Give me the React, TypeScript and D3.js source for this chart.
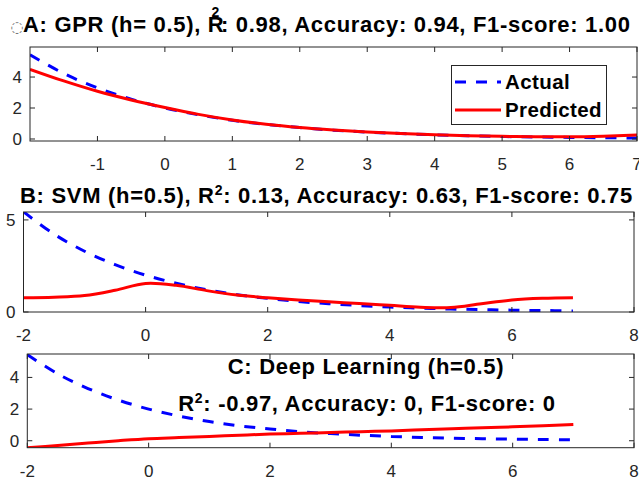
import * as d3 from "d3";

const xs = [-2, -1.5, -1, -0.5, 0, 0.5, 1, 1.5, 2, 2.5, 3, 3.5, 4, 4.5, 5, 5.5, 6, 6.5, 7];
const actual = [5.44, 4.23, 3.3, 2.57, 2.0, 1.56, 1.21, 0.94, 0.74, 0.57, 0.45, 0.35, 0.27, 0.21, 0.16, 0.13, 0.1, 0.08, 0.06];
const predGPR = [4.5, 3.75, 3.08, 2.52, 2.03, 1.59, 1.23, 0.95, 0.74, 0.58, 0.45, 0.35, 0.27, 0.21, 0.17, 0.15, 0.14, 0.18, 0.25];
const predSVM = [0.77, 0.8, 0.89, 1.18, 1.55, 1.45, 1.16, 0.92, 0.77, 0.65, 0.55, 0.46, 0.36, 0.26, 0.24, 0.45, 0.65, 0.74, 0.77];
const predDL = [-0.44, -0.3, -0.15, 0.0, 0.13, 0.2, 0.27, 0.35, 0.42, 0.47, 0.52, 0.57, 0.62, 0.69, 0.76, 0.82, 0.88, 0.95, 1.02];

const ticksA = [-1, 0, 1, 2, 3, 4, 5, 6, 7];
const ticksBC = [-2, 0, 2, 4, 6, 8];
const yTicksA = [0, 2, 4];
const yTicksB = [0, 5];
const yTicksC = [0, 2, 4];

const FONT = "'Liberation Sans', Arial, Helvetica, sans-serif";
const AXIS = "#262626";
const TITLE_SIZE = 22;
const TITLE_LS = 0.7;

type PanelProps = {
  left: number; right: number; top: number; bottom: number;
  xDomain: [number, number]; yDomain: [number, number];
  xTicks: number[]; yTicks: number[]; pred: number[];
};

function Panel({ left, right, top, bottom, xDomain, yDomain, xTicks, yTicks, pred }: PanelProps) {
  const x = d3.scaleLinear().domain(xDomain).range([left, right]);
  const y = d3.scaleLinear().domain(yDomain).range([bottom, top]);
  const line = d3
    .line<number>()
    .x((_, i) => x(xs[i]))
    .y((d) => y(d))
    .curve(d3.curveCatmullRom);
  const tk = 5;
  return (
    <g>
      <defs>
        <clipPath id={`clip${top}`}>
          <rect x={left} y={top} width={right - left} height={bottom - top} />
        </clipPath>
      </defs>
      <g clipPath={`url(#clip${top})`}>
        <path d={line(actual) || ""} fill="none" stroke="#0000FF" strokeWidth={3} strokeDasharray="11,10" />
        <path d={line(pred) || ""} fill="none" stroke="#FF0000" strokeWidth={3} />
      </g>
      <rect x={left} y={top} width={right - left} height={bottom - top} fill="none" stroke={AXIS} strokeWidth={1} />
      {xTicks.map((t) => (
        <g key={"x" + t}>
          <line x1={x(t)} x2={x(t)} y1={bottom} y2={bottom - tk} stroke={AXIS} />
          <line x1={x(t)} x2={x(t)} y1={top} y2={top + tk} stroke={AXIS} />
          <text x={x(t)} y={bottom + 29} textAnchor="middle" fontSize={17} fill={AXIS} fontFamily={FONT}>
            {t}
          </text>
        </g>
      ))}
      {yTicks.map((t) => (
        <g key={"y" + t}>
          <line x1={left} x2={left + tk} y1={y(t)} y2={y(t)} stroke={AXIS} />
          <line x1={right} x2={right - tk} y1={y(t)} y2={y(t)} stroke={AXIS} />
          <text x={left - 8} y={y(t) + 6} textAnchor="end" fontSize={17} fill={AXIS} fontFamily={FONT}>
            {t}
          </text>
        </g>
      ))}
    </g>
  );
}

export default function App() {
  const titleProps = {
    fontSize: TITLE_SIZE,
    fontWeight: "bold",
    fontFamily: FONT,
    fill: "#000",
    letterSpacing: TITLE_LS,
  };
  return (
    <svg width={639} height={478} style={{ position: "absolute", left: 0, top: 0, background: "#fff" }}>
      {/* A */}
      <Panel left={30} right={637} top={47} bottom={141} xDomain={[-2, 7]} yDomain={[-0.13, 5.94]}
        xTicks={ticksA} yTicks={yTicksA} pred={predGPR} />
      <text x={17} y={32} textAnchor="middle" fontSize={15} fill="#777" fontFamily="DejaVu Sans">◌</text>
      <text x={23} y={32} {...titleProps}>
        <tspan>A: GPR (h= 0.5), R</tspan>
        <tspan dx={-13} dy={-15} fontSize={14}>2</tspan>
        <tspan dx={1} dy={15}>: 0.98, Accuracy: 0.94, F1-score: 1.00</tspan>
      </text>

      {/* legend */}
      <g>
        <rect x={451.5} y={65.5} width={155} height={59} fill="#fff" stroke={AXIS} strokeWidth={1} />
        <line x1={455} x2={501} y1={82} y2={82} stroke="#0000FF" strokeWidth={3} strokeDasharray="11,10" />
        <line x1={455} x2={501} y1={110} y2={110} stroke="#FF0000" strokeWidth={3} />
        <text x={505} y={89} fontSize={20.5} letterSpacing={0.4} fontWeight="bold" fontFamily={FONT}>Actual</text>
        <text x={505} y={117} fontSize={20.5} letterSpacing={0.4} fontWeight="bold" fontFamily={FONT}>Predicted</text>
      </g>

      {/* B */}
      <Panel left={23.5} right={634} top={212} bottom={312} xDomain={[-2, 8]} yDomain={[0, 5.43]}
        xTicks={ticksBC} yTicks={yTicksB} pred={predSVM} />
      <text x={20} y={203} {...titleProps}>
        <tspan>B: SVM (h=0.5), R</tspan>
        <tspan dy={-8} fontSize={14}>2</tspan>
        <tspan dy={8}>: 0.13, Accuracy: 0.63, F1-score: 0.75</tspan>
      </text>

      {/* C */}
      <Panel left={27.3} right={634} top={354} bottom={447.7} xDomain={[-2, 8]} yDomain={[-0.44, 5.48]}
        xTicks={ticksBC} yTicks={yTicksC} pred={predDL} />
      <text x={366} y={374} textAnchor="middle" {...titleProps}>
        C: Deep Learning (h=0.5)
      </text>
      <text x={367} y={411} textAnchor="middle" {...titleProps}>
        <tspan>R</tspan>
        <tspan dy={-8} fontSize={14}>2</tspan>
        <tspan dy={8}>: -0.97, Accuracy: 0, F1-score: 0</tspan>
      </text>
    </svg>
  );
}
